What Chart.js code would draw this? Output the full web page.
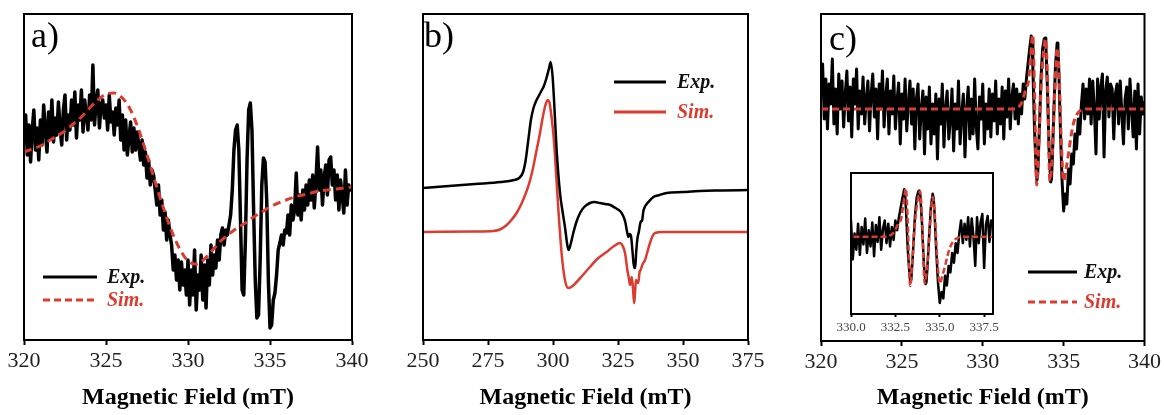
<!DOCTYPE html>
<html><head><meta charset="utf-8">
<script src="https://cdn.jsdelivr.net/npm/chart.js@4.4.1/dist/chart.umd.min.js"></script>
<style>
html,body{margin:0;padding:0;background:#fff;}
#wrap{position:relative;width:1164px;height:415px;overflow:hidden;background:#fff;}
canvas{position:absolute;}
</style></head><body>
<div id="wrap">
<canvas id="ca" width="380" height="415" style="left:0;top:0"></canvas>
<canvas id="cb" width="390" height="415" style="left:390px;top:0"></canvas>
<canvas id="cc" width="374" height="415" style="left:790px;top:0"></canvas>
<canvas id="ci" width="175" height="176" style="left:831px;top:163px"></canvas>
</div>
<script>
// ---------- DATA (arbitrary intensity units) ----------
// sampling grid helper (field positions only)
function grid(start, step, n){ return Array.from({length:n}, (_, i) => +(start + i*step).toFixed(3)); }

// Panel a
const aTicks = [320, 325, 330, 335, 340];
const aExpField = grid(320, 0.1, 201);
const aExpVal = [
 60, 85, 45, 75, 38, 70, 90, 50, 72, 40,
 80, 55, 95, 70, 48, 88, 62, 100, 58, 82,
 65, 98, 72, 55, 90, 105, 60, 85, 70, 100,
 75, 108, 62, 95, 80, 110, 68, 100, 85, 70,
 105, 80, 135, 75, 98, 110, 72, 95, 100, 82,
 95, 70, 105, 78, 88, 65, 92, 75, 100, 60,
 85, 50, 80, 45, 62, 78, 48, 72, 50, 68,
 55, 40, 60, 35, 48, 22, 40, 15, 30, 25,
 10, -5, 15, -15, 0, -30, -12, -40, -20, -35,
 -45, -70, -55, -80, -60, -90, -62, -85, -70, -95,
 -60, -105, -70, -95, -50, -110, -75, -90, -55, -100,
 -65, -108, -60, -85, -45, -75, -55, -68, -40, -60,
 -35, -28, -45, -30, -35, -25, -15, 10, 50, 70,
 75, 50, -20, -90, -95, -40, 40, 90, 97, 70,
 -10, -80, -118, -115, -60, 15, 42, 38, 0, -80,
 -128, -125, -100, -93, -75, -50, -43, -35, -45, -30,
 -33, -15, -35, -5, -20, -10, 27, -15, 5, -20,
 10, -10, 15, -5, 20, 0, 25, -8, 18, 53,
 10, 30, -5, 22, 35, 5, 40, 43, 15, 30,
 0, 25, -10, 20, 5, -13, 30, -5, 15, 10,
 10
];
const aSimField = grid(320, 0.5, 41);
const aSimVal = [48,51,54,59,64,69,76,83,92,100,106,107,102,90,70,45,18,-8,-31,-49,
 -61,-64,-59,-50,-41,-34,-28,-23,-17,-12,-7,-3,0,3,5,7,9,10,11,12,13];

// Panel b
const bTicks = [250, 275, 300, 325, 350, 375];
const bExpField = [250,260,270,280,285,287,288.5,289.5,290.5,291.5,292.5,293.5,294.5,295.5,296.5,297.5,298.5,299.1,299.8,300.4,301.4,302.7,303.7,304.6,305.5,306.0,306.8,307.8,309,310.4,312,314.2,316,318,320,322,324,325.8,327,327.8,328.5,329,329.5,330,330.6,331.2,331.6,332.0,332.5,333.0,333.7,334.3,334.7,335.5,336.7,338.6,341,343.7,350,356.5,365,375];
const bExpVal = [44,46,48,50,52,54,60,72,92,112,124,131,136,141,146,154,164,170,157,132,82,39,20,5,-13,-18,-12,-1,10,19,25,29,30,29,28,27,24,21,16,10,0,-5,-2,-4,-20,-36,-36,-20,-6,0,10,12,20,26,30,35,37,39,40,41,41.5,42];
const bSimField = [250,270,277,280,282.2,284,286,288,290,291.2,292.4,293.7,295,296,296.9,297.9,298.6,299.1,300,300.8,302,303.3,304.6,305.9,307,309.1,311.5,314.2,317,320.6,323.5,325.8,326.8,327.7,328.6,329.3,329.6,330.0,330.3,330.8,331.2,331.5,331.9,332.4,332.8,333.3,333.7,334.5,335.4,336.3,337.3,338.3,339.2,342.4,375];
const bSimVal = [0,0.5,1,3,7,12,19,29,42,52,65,82,99,114,125,132,130,122,102,75,25,-21,-48,-56,-55,-50,-43,-35,-27,-20,-14,-11,-14,-21,-38,-48,-53,-48,-45,-58,-71,-63,-48,-50,-51,-40,-38,-32,-28,-20,-11,-4,-1,0,0];

// Panel c (main) and inset share the same spectrum
const cTicks = [320, 325, 330, 335, 340];
const insetTicks = [330, 332.5, 335, 337.5];
const cPeakField = [333.0,333.05,333.1,333.2,333.3,333.35,333.4,333.5,333.6,333.7,333.8,333.85,333.9,334.0,334.1,334.2,334.25,334.3,334.4,334.5,334.6,334.65,334.7,334.8,334.9,335.0];
const cExpField = [...grid(320, 0.1, 130), ...cPeakField, ...grid(335.1, 0.1, 50)];
const cExpVal = [
 20, 45, -10, 30, -20, 25, 5, 50, -15, 20,
 -25, 35, 0, 28, -18, 15, 38, -12, 22, -28,
 30, 5, 40, -20, 18, -5, 32, -15, 10, 28,
 -22, 15, 35, -8, 20, -30, 25, 0, 38, -18,
 12, 30, -25, 18, -5, 33, -20, 8, 26, -35,
 15, -10, 30, -22, 5, 28, -15, 20, -40, 10,
 25, -30, 0, 18, -45, 12, -20, 22, -35, 5,
 -25, 15, -50, 10, -15, 25, -38, 0, 18, -30,
 -10, 20, -42, 5, -20, 28, -35, -5, 15, -48,
 0, 22, -30, 10, -25, 30, -18, -40, 12, -10,
 25, -35, 5, -20, 20, -28, 15, -12, 28, -25,
 10, -15, 22, -30, 18, -8, 30, -20, 12, 25,
 -10, 20, -15, 15, -5, 25, 10, 30, 45, 60,
 73, 65, 40, -20, -60, -71, -65, -20, 30, 60, 70, 71, 65, 20, -40, -73, -70, -50, 0, 45, 66, 60, 40, -20, -70, -102,
 -85, -95, -60, -75, -45, -55, -25, -40, -10,
 -25, 5, 25, -10, 20, -5, 30, -15, 28, 0,
 -45, 30, -10, 22, 35, -48, 18, 32, -8, 25,
 20, -30, 15, 25, -15, 28, -5, -35, 10, 22,
 -20, 30, 0, -28, 18, -40, 25, -25, 12, -5,
 8
];
const cSimField = [320,332.0,332.2,332.4,332.52,332.7,332.82,332.95,333.09,333.2,333.33,333.45,333.6,333.75,333.89,334.0,334.15,334.3,334.45,334.6,334.72,334.85,335.0,335.15,335.3,335.45,335.6,335.8,336.0,336.5,340];
const cSimVal = [0,0,2,6,12,22,27,50,74,20,-76,-40,20,55,70,30,-72,-45,15,61,35,-30,-72,-60,-45,-28,-15,-6,-2,0,0];

// ---------- RENDERING ----------
const SERIF = '"Liberation Serif","Times New Roman",Times,serif';
const RED = '#dc3b2f';
const pairs = (xs, ys) => xs.map((x, i) => ({x, y: ys[i]}));

const deco = {
  id: 'deco',
  beforeDraw(chart, args, o) {
    if (!o.fill) return;
    const a = chart.chartArea, c = chart.ctx;
    c.save(); c.fillStyle = o.fill;
    c.fillRect(a.left, a.top, a.right - a.left, a.bottom - a.top);
    c.restore();
  },
  afterDraw(chart, args, o) {
    const c = chart.ctx, a = chart.chartArea;
    c.save();
    c.strokeStyle = '#000'; c.lineWidth = o.frame || 2; c.setLineDash([]);
    c.strokeRect(a.left, a.top, a.right - a.left, a.bottom - a.top);
    if (o.letter) {
      c.font = `36px ${SERIF}`; c.fillStyle = '#000'; c.textBaseline = 'alphabetic';
      c.fillText(o.letter, o.letterX, o.letterY);
    }
    (o.legend || []).forEach(l => {
      c.beginPath(); c.setLineDash(l.dash || []); c.lineWidth = l.width; c.strokeStyle = l.color;
      c.moveTo(l.x1, l.y); c.lineTo(l.x2, l.y); c.stroke(); c.setLineDash([]);
      c.font = `italic bold 20px ${SERIF}`; c.fillStyle = l.textColor || l.color; c.textBaseline = 'middle';
      c.fillText(l.text, l.tx, l.y + 1);
    });
    c.restore();
  }
};

function makeChart(id, datasets, cfg) {
  return new Chart(document.getElementById(id), {
    type: 'line',
    data: { datasets },
    options: {
      responsive: false, animation: false, devicePixelRatio: 1,
      layout: { padding: cfg.padding },
      plugins: { legend: { display: false }, tooltip: { enabled: false }, deco: cfg.deco },
      elements: { point: { radius: 0 }, line: { borderJoinStyle: 'round', borderCapStyle: 'butt' } },
      scales: {
        x: {
          type: 'linear', min: cfg.xmin, max: cfg.xmax,
          afterFit: s => { s.height = cfg.axisH; },
          afterBuildTicks: s => { s.ticks = cfg.ticks.map(v => ({ value: v })); },
          ticks: { font: { family: SERIF, size: cfg.tickSize }, color: cfg.tickColor, padding: 3,
                   maxRotation: 0, autoSkip: false, callback: cfg.fmt },
          grid: { display: true, drawOnChartArea: false, drawTicks: true, tickLength: cfg.tickLen,
                  tickWidth: 2, tickColor: '#000' },
          border: { display: true, color: '#000', width: 2 },
          title: { display: !!cfg.title, text: cfg.title || '', color: '#000',
                   font: { family: SERIF, size: 24, weight: 'bold' }, padding: { top: 0, bottom: 3 } }
        },
        y: { display: false, min: cfg.ymin, max: cfg.ymax }
      }
    },
    plugins: [deco]
  });
}

const mainFmt = v => String(v);
const TITLE = 'Magnetic Field (mT)';

// a)
makeChart('ca', [
  { data: pairs(aSimField, aSimVal), borderColor: RED, borderWidth: 3, borderDash: [8, 5], cubicInterpolationMode: 'monotone', order: 0 },
  { data: pairs(aExpField, aExpVal), borderColor: '#000', borderWidth: 3.5, tension: 0, order: 1 }
], {
  xmin: 320, xmax: 340, ymin: -140, ymax: 186, ticks: aTicks, fmt: mainFmt, tickSize: 22, tickColor: '#222', tickLen: 5,
  padding: { left: 24, right: 28, top: 14, bottom: 0 }, axisH: 75, title: TITLE,
  deco: { letter: 'a)', letterX: 31, letterY: 47, legend: [
    { x1: 43, x2: 97, y: 277, color: '#000', width: 3, text: 'Exp.', tx: 107, textColor: '#111' },
    { x1: 43, x2: 97, y: 300, color: RED, width: 3, dash: [7, 4], text: 'Sim.', tx: 107 }
  ] }
});

// b)
makeChart('cb', [
  { data: pairs(bExpField, bExpVal), borderColor: '#000', borderWidth: 2.5, cubicInterpolationMode: 'monotone', order: 0 },
  { data: pairs(bSimField, bSimVal), borderColor: RED, borderWidth: 2.5, cubicInterpolationMode: 'monotone', order: 1 }
], {
  xmin: 250, xmax: 375, ymin: -108, ymax: 218, ticks: bTicks, fmt: mainFmt, tickSize: 22, tickColor: '#222', tickLen: 5,
  padding: { left: 33, right: 32, top: 14, bottom: 0 }, axisH: 75, title: TITLE,
  deco: { letter: 'b)', letterX: 34, letterY: 47, legend: [
    { x1: 224, x2: 276, y: 82, color: '#000', width: 3, text: 'Exp.', tx: 287, textColor: '#111' },
    { x1: 224, x2: 276, y: 112, color: RED, width: 3, text: 'Sim.', tx: 287 }
  ] }
});

// c)
makeChart('cc', [
  { data: pairs(cSimField, cSimVal), borderColor: RED, borderWidth: 3, borderDash: [7, 4], cubicInterpolationMode: 'monotone', order: 0 },
  { data: pairs(cExpField, cExpVal), borderColor: '#000', borderWidth: 3, tension: 0, order: 1 }
], {
  xmin: 320, xmax: 340, ymin: -232, ymax: 95, ticks: cTicks, fmt: mainFmt, tickSize: 22, tickColor: '#222', tickLen: 5,
  padding: { left: 31, right: 17, top: 14, bottom: 0 }, axisH: 74, title: TITLE,
  deco: { letter: 'c)', letterX: 39, letterY: 50, legend: [
    { x1: 238, x2: 287, y: 272, color: '#000', width: 3, text: 'Exp.', tx: 294, textColor: '#111' },
    { x1: 238, x2: 287, y: 302, color: RED, width: 3, dash: [7, 4], text: 'Sim.', tx: 294 }
  ] }
});

// inset of c)
makeChart('ci', [
  { data: pairs(cSimField, cSimVal), borderColor: RED, borderWidth: 2.5, borderDash: [6, 3], cubicInterpolationMode: 'monotone', order: 0 },
  { data: pairs(cExpField, cExpVal), borderColor: '#000', borderWidth: 2.5, tension: 0, order: 1 }
], {
  xmin: 330, xmax: 338, ymin: -119, ymax: 98, ticks: insetTicks, fmt: v => v.toFixed(1), tickSize: 13, tickColor: '#444', tickLen: 3,
  padding: { left: 20, right: 13, top: 10, bottom: 0 }, axisH: 25, title: '',
  deco: { fill: '#fff', frame: 2 }
});
</script>
</body></html>
